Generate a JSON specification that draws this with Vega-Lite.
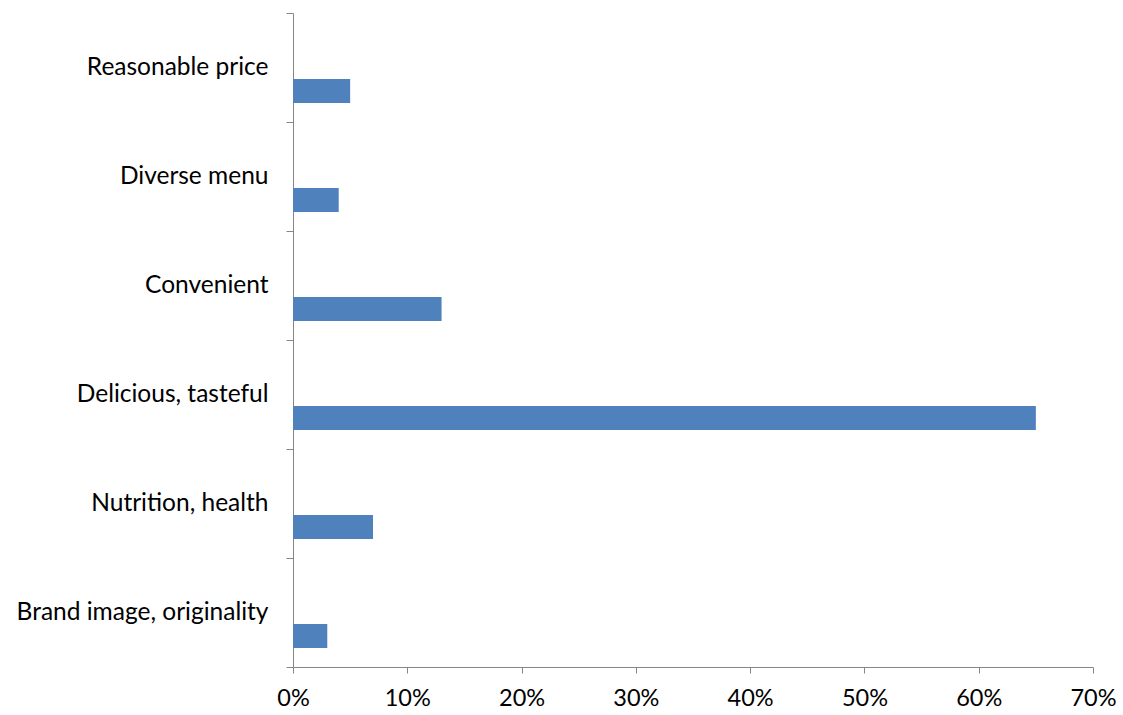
{
  "$schema": "https://vega.github.io/schema/vega-lite/v6.json",
  "width": 800,
  "height": 654,
  "autosize": {"type": "none"},
  "padding": {"left": 293, "top": 13, "right": 30, "bottom": 48},
  "background": "white",
  "config": {"view": {"stroke": null}, "font": "Lato"},
  "data": {
    "values": [
      {"reason": "Reasonable price", "share": 0.05},
      {"reason": "Diverse menu", "share": 0.04},
      {"reason": "Convenient", "share": 0.13},
      {"reason": "Delicious, tasteful", "share": 0.65},
      {"reason": "Nutrition, health", "share": 0.07},
      {"reason": "Brand image, originality", "share": 0.03}
    ]
  },
  "mark": {"type": "bar", "color": "#4F81BD", "height": 24, "yOffset": 23.5},
  "encoding": {
    "y": {
      "field": "reason",
      "type": "nominal",
      "sort": null,
      "scale": {"paddingInner": 0, "paddingOuter": 0},
      "axis": {
        "title": null,
        "tickBand": "extent",
        "domainColor": "#868686",
        "tickColor": "#868686",
        "tickSize": 7,
        "labelPadding": 18,
        "labelFontSize": 24.5,
        "labelLimit": 0,
        "labelColor": "#000000",
        "labelFont": "Lato",
        "grid": false
      }
    },
    "x": {
      "field": "share",
      "type": "quantitative",
      "scale": {"domain": [0, 0.7], "nice": false},
      "axis": {
        "title": null,
        "format": ".0%",
        "values": [0, 0.1, 0.2, 0.3, 0.4, 0.5, 0.6, 0.7],
        "grid": false,
        "domainColor": "#868686",
        "tickColor": "#868686",
        "tickSize": 6,
        "labelPadding": 13,
        "labelFontSize": 23.5,
        "labelColor": "#000000",
        "labelFont": "Lato",
        "labelFlush": false
      }
    }
  }
}
